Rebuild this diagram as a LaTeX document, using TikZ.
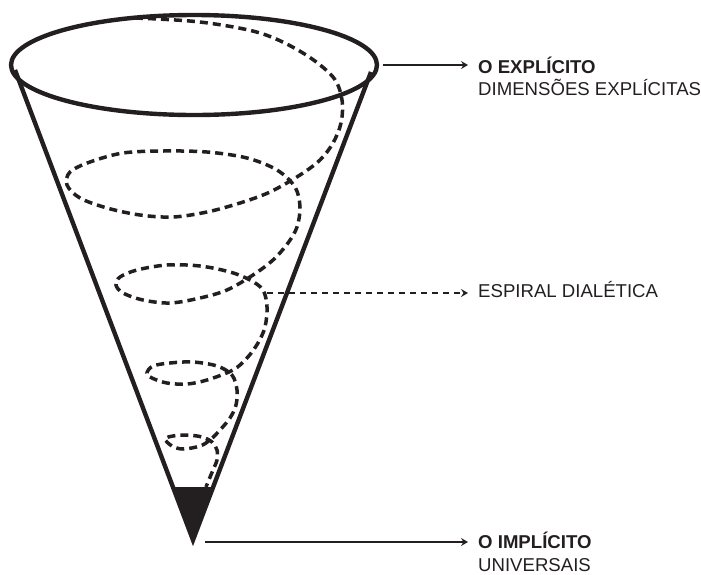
\documentclass[tikz,border=0pt]{standalone}
\usepackage{fontspec}
\setmainfont{Liberation Sans}
\usetikzlibrary{arrows.meta}
\definecolor{ink}{HTML}{231F20}
\begin{document}
\begin{tikzpicture}[x=1pt,y=-1pt,
    conestroke/.style={draw=ink,line width=4.4pt,line join=miter},
    spiralstroke/.style={draw=ink,line width=3.5pt,dash pattern=on 8pt off 5pt},
    pointer/.style={draw=ink,line width=1.3pt,-{Stealth[length=7pt,width=8pt,inset=2.5pt]}},
    dashpointer/.style={pointer,dash pattern=on 6pt off 5pt},
    headline/.style={anchor=base west,inner sep=0pt,font=\fontsize{18.6}{20}\selectfont\bfseries,text=ink},
    subline/.style={anchor=base west,inner sep=0pt,font=\fontsize{18.6}{20}\selectfont,text=ink}]
  \useasboundingbox (0,0) rectangle (701,574);

  % cone: rim, sides and the dark tip
  \coordinate (apex) at (193,540);
  \coordinate (leftrim) at (15,70);
  \coordinate (rightrim) at (371,72);
  \fill[ink] (173,487) -- (213,487) -- (apex) -- cycle;
  \draw[conestroke] (leftrim) -- (apex) -- (rightrim);
  \draw[conestroke] (194,65) ellipse [x radius=183pt, y radius=50pt];

  % dialectic spiral winding down inside the cone
  \draw[spiralstroke] plot[smooth,tension=0.55] coordinates {
    (135,18) (200,22) (260,33) (303,53) (333,77) (342,100) (341,123)
    (333,143) (320,160) (300,175) (270,192) (240,203) (207,212) (173,217)
    (140,215) (107,208) (80,198) (67,185) (70,172) (90,162) (123,153)
    (163,151) (207,152) (247,158) (277,170) (295,187) (300,207) (297,227)
    (288,243) (273,260) (253,275) (227,290) (200,298) (170,303) (143,300)
    (123,293) (116,285) (120,277) (137,270) (167,265) (200,266) (230,272)
    (250,280) (263,290) (267,307) (265,327) (258,343) (247,358) (233,370)
    (207,380) (187,384) (167,383) (152,378) (147,373) (153,366) (170,363)
    (193,362) (217,366) (232,375) (237,390) (236,405) (230,418) (220,430)
    (210,440) (200,446) (183,449) (172,446) (165,439) (173,436) (187,435)
    (202,437) (212,442) (217,450) (217,460) (213,470) (208,482) (206,487)};

  % start points of the pointers
  \coordinate (rimout) at (383,65);
  \coordinate (spiralout) at (267,293);
  \coordinate (tipout) at (205,542);

  % labels
  \node[headline] (explicit) at (478,73) {O EXPLÍCITO};
  \node[subline] (explicitsub) at (478,95) {DIMENSÕES EXPLÍCITAS};
  \node[subline] (spiral) at (478,297) {ESPIRAL DIALÉTICA};
  \node[headline] (implicit) at (478,548) {O IMPLÍCITO};
  \node[subline] (implicitsub) at (478,571) {UNIVERSAIS};

  % pointers
  \draw[pointer] (rimout) -- ([xshift=-10pt]explicit.west |- rimout);
  \draw[dashpointer] (spiralout) -- ([xshift=-10pt]spiral.west |- spiralout);
  \draw[pointer] (tipout) -- ([xshift=-10pt]implicit.west |- tipout);
\end{tikzpicture}
\end{document}
